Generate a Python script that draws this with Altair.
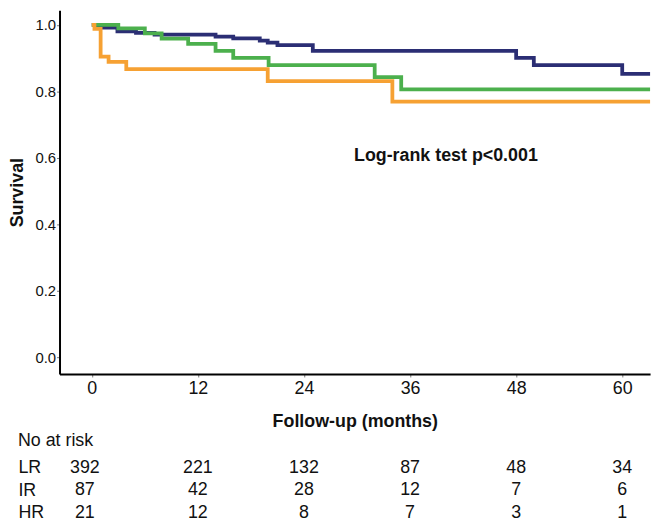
import altair as alt
import pandas as pd

FONT = "Liberation Sans, Arial, Helvetica, sans-serif"

groups = ["LR", "IR", "HR"]
colors = ["#2b2e74", "#4cb04d", "#f6a133"]

# Kaplan-Meier step curves (months, survival)
lr_time = [0, 0.5, 2.9, 5.0, 7.1, 14.0, 16.0, 19.0, 19.9, 21.0, 25.0, 48.0, 50.0, 60.0, 63.15]
lr_surv = [1.0, 0.992, 0.981, 0.976, 0.971, 0.965, 0.960, 0.953, 0.947, 0.939, 0.922, 0.901, 0.879, 0.853, 0.853]

ir_time = [0, 3.0, 6.0, 7.9, 10.9, 14.0, 16.0, 20.0, 32.0, 35.0, 63.15]
ir_surv = [1.0, 0.990, 0.975, 0.959, 0.943, 0.922, 0.901, 0.879, 0.843, 0.806, 0.806]

hr_time = [0, 0.3, 1.0, 1.9, 3.9, 19.9, 34.0, 63.15]
hr_surv = [1.0, 0.988, 0.905, 0.889, 0.867, 0.831, 0.769, 0.769]

# Numbers at risk
risk_months = [0, 12, 24, 36, 48, 60]
risk_lr = [392, 221, 132, 87, 48, 34]
risk_ir = [87, 42, 28, 12, 7, 6]
risk_hr = [21, 12, 8, 7, 3, 1]

y_ticks = [0.0, 0.2, 0.4, 0.6, 0.8, 1.0]
annotation = "Log-rank test p<0.001"

curves = {"LR": (lr_time, lr_surv), "IR": (ir_time, ir_surv), "HR": (hr_time, hr_surv)}
rows = []
for g in groups:
    t, s = curves[g]
    for i, (ti, si) in enumerate(zip(t, s)):
        rows.append({"group": g, "month": ti, "surv": si, "idx": i})
curve_df = pd.DataFrame(rows)

risk_rows = []
for g, vals in zip(groups, [risk_lr, risk_ir, risk_hr]):
    for m, n in zip(risk_months, vals):
        risk_rows.append({"row": g, "month": m, "n": n})
risk_df = pd.DataFrame(risk_rows)

x_scale = alt.Scale(domain=[-3.65, 63.15], nice=False, zero=False)
y_scale = alt.Scale(domain=[-0.051, 1.044], nice=False, zero=False)

x_axis = alt.Axis(
    values=risk_months, title="Follow-up (months)", grid=False,
    labelFont=FONT, labelFontSize=18, labelColor="#111", labelPadding=3,
    tickSize=3, tickColor="#777", domainColor="#000", domainWidth=2,
    titleFont=FONT, titleFontSize=18, titleFontWeight="bold", titleColor="#111", titlePadding=15,
)
y_axis = alt.Axis(
    values=y_ticks, format=".1f", title="Survival", grid=False,
    labelFont=FONT, labelFontSize=15, labelColor="#111", labelPadding=1,
    tickSize=3, tickColor="#777", domainColor="#000", domainWidth=2,
    titleFont=FONT, titleFontSize=18, titleFontWeight="bold", titleColor="#111", titlePadding=9,
)

layers = []
for g, c in zip(groups, colors):
    layers.append(
        alt.Chart(curve_df).transform_filter(alt.datum.group == g)
        .mark_line(interpolate="step-after", strokeWidth=3.8, color=c)
        .encode(
            x=alt.X("month:Q", scale=x_scale, axis=x_axis),
            y=alt.Y("surv:Q", scale=y_scale, axis=y_axis),
            order="idx:Q",
        )
    )

text_layer = alt.Chart(pd.DataFrame({"label": [annotation]})).mark_text(
    align="left", baseline="middle", font=FONT, fontSize=18, fontWeight="bold", color="#111"
).encode(
    x=alt.X(datum=29.66, scale=x_scale, axis=x_axis),
    y=alt.Y(datum=0.605, scale=y_scale, axis=y_axis),
    text="label:N",
)

main = alt.layer(*layers, text_layer).properties(width=596, height=367)

row_y_axis = alt.Axis(title=None, domain=False, ticks=False, grid=False,
                      labelAlign="left", labelPadding=42, labelFont=FONT,
                      labelFontSize=18, labelColor="#111")
row_scale = alt.Scale(type="point", padding=0.25)

table_base = alt.Chart(risk_df)
table_rest = table_base.transform_filter(alt.datum.month != 0).mark_text(
    align="center", baseline="middle", font=FONT, fontSize=18, color="#111"
).encode(
    x=alt.X("month:Q", scale=x_scale, axis=None),
    y=alt.Y("row:N", sort=groups, scale=row_scale, axis=row_y_axis),
    text="n:Q",
)
table_first = table_base.transform_filter(alt.datum.month == 0).mark_text(
    align="center", baseline="middle", font=FONT, fontSize=18, color="#111", dx=-7
).encode(
    x=alt.X("month:Q", scale=x_scale, axis=None),
    y=alt.Y("row:N", sort=groups, scale=row_scale, axis=row_y_axis),
    text="n:Q",
)
table = alt.layer(table_rest, table_first).properties(
    width=596, height=57,
    title=alt.TitleParams("No at risk", anchor="start", frame="bounds", font=FONT,
                          fontSize=18, fontWeight="normal", color="#111", offset=9),
)

chart = alt.vconcat(main, table, spacing=1).properties(
    padding={"left": 0, "top": 0, "right": 0, "bottom": 0}
).configure(
    background="white",
    view=alt.ViewConfig(stroke="transparent", strokeWidth=0),
)

chart.save("out.html", embed_options={"renderer": "svg", "actions": False})
